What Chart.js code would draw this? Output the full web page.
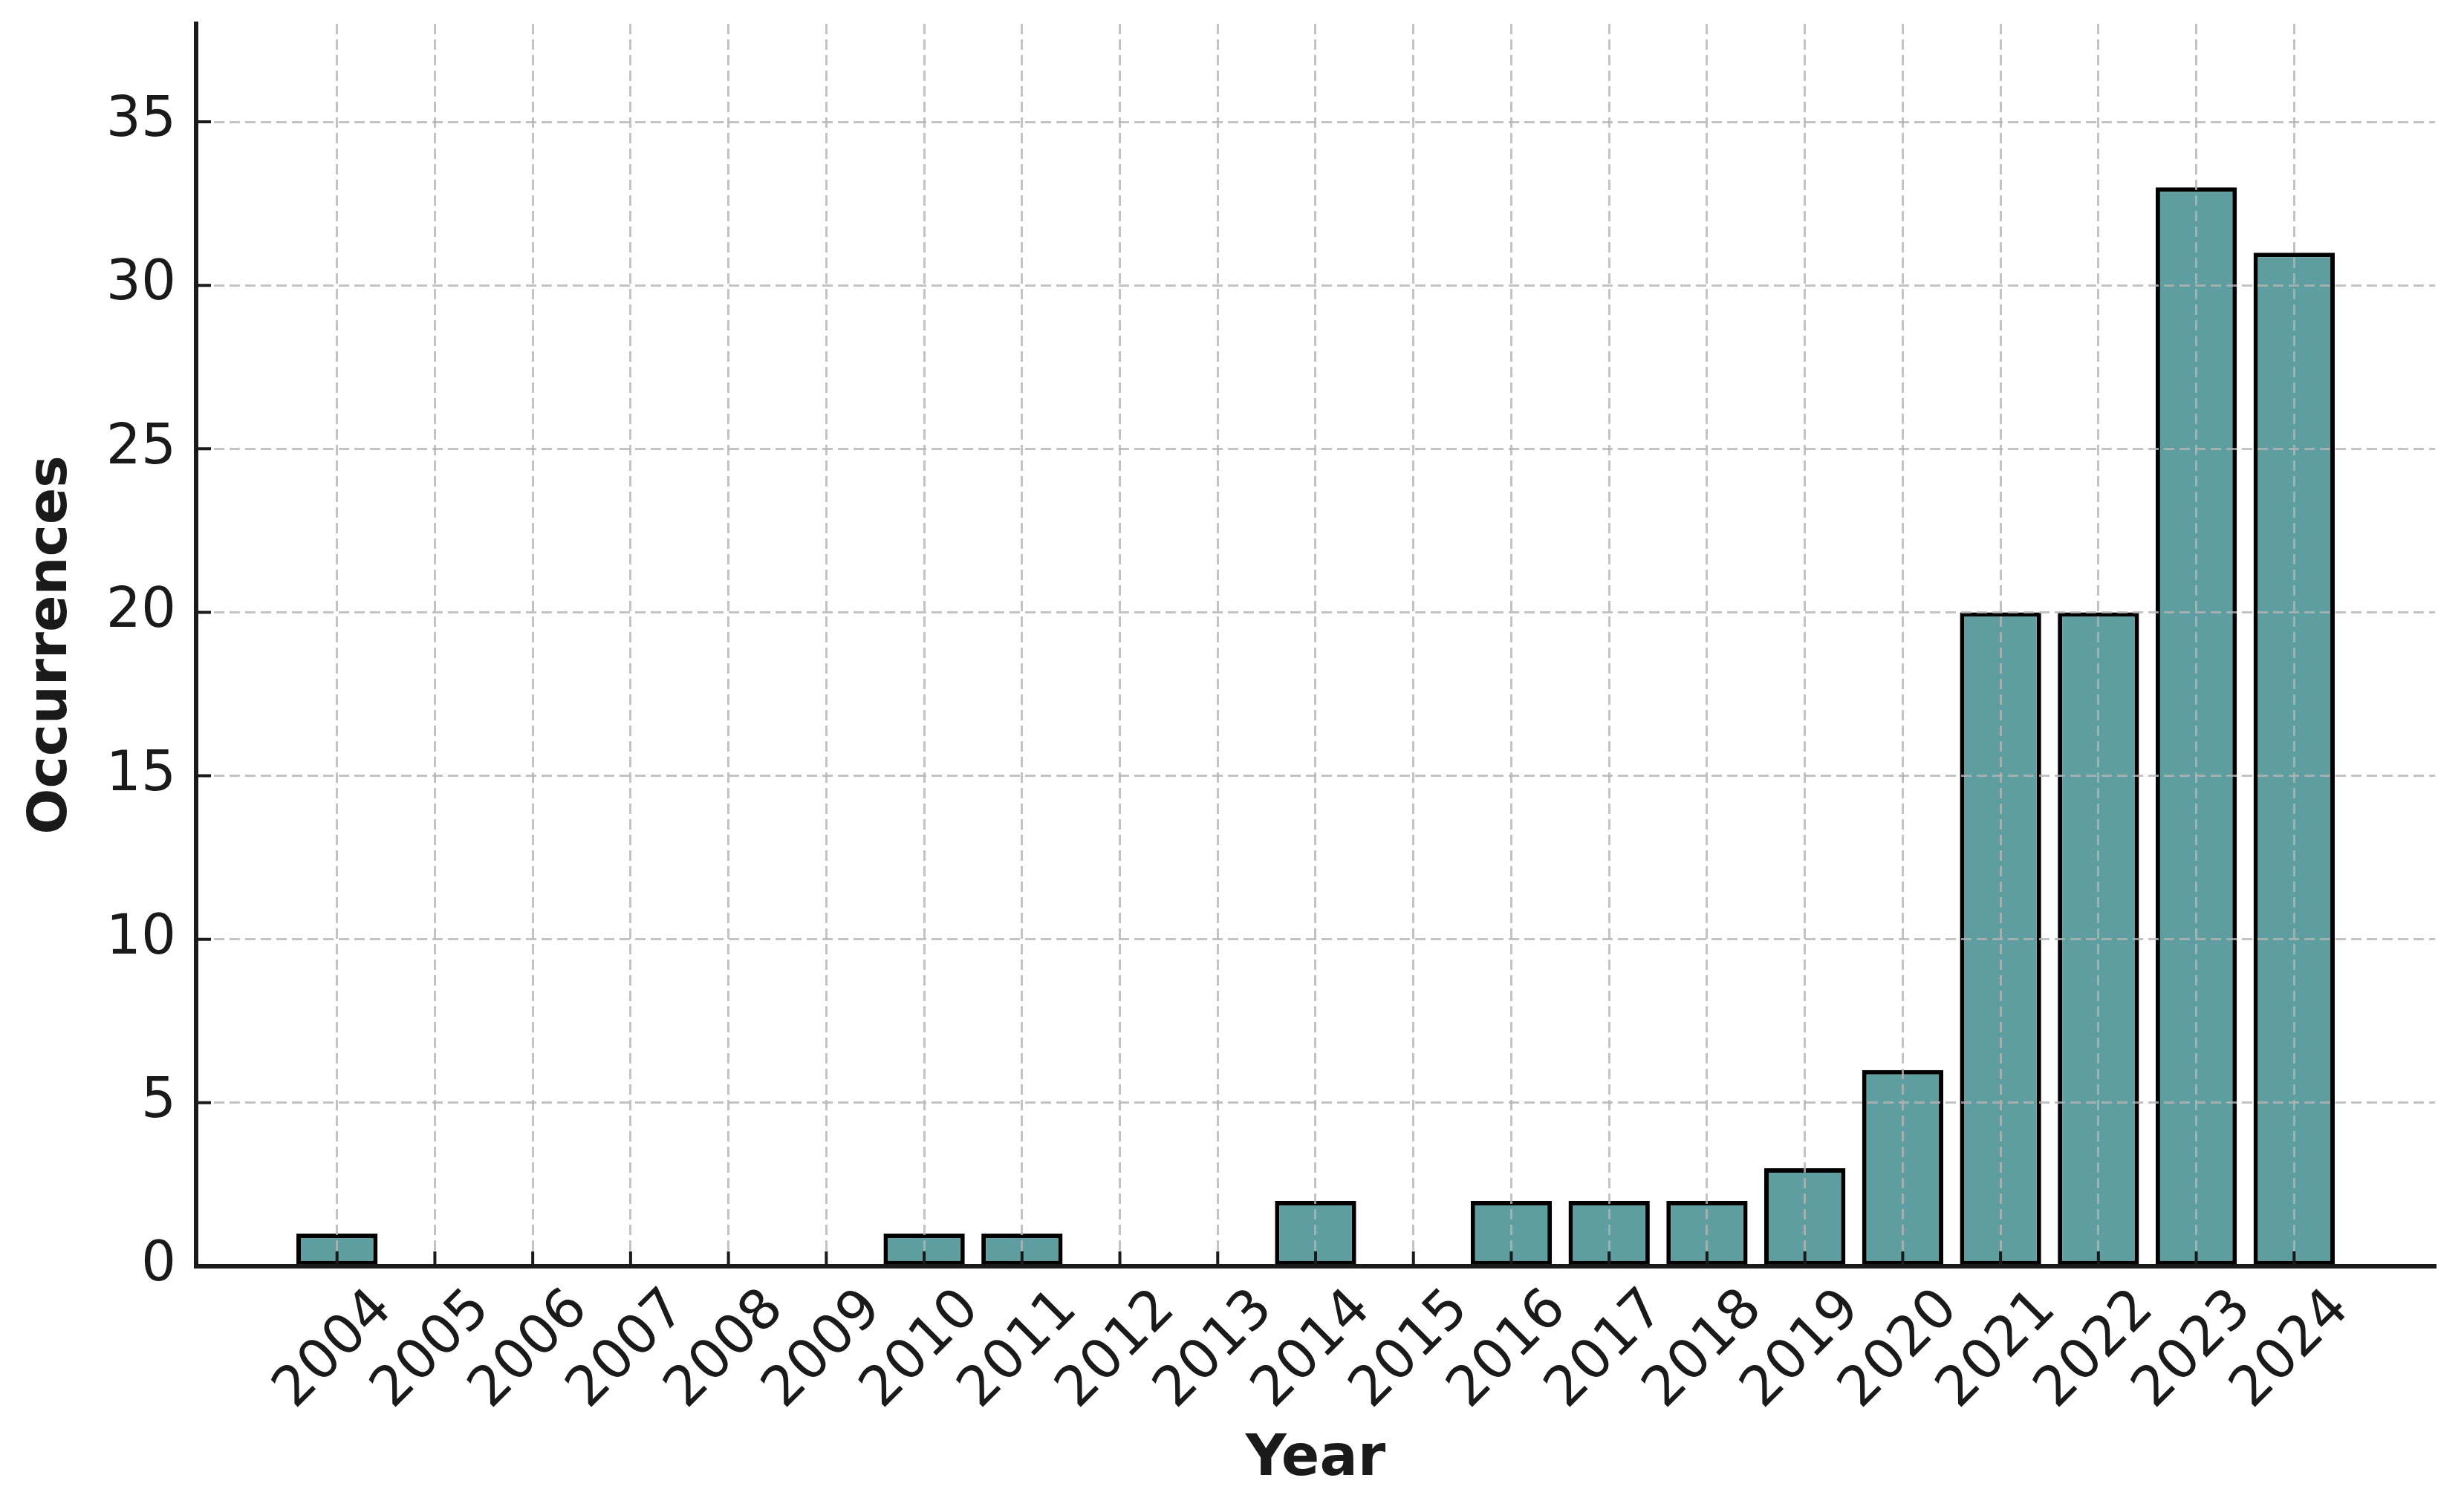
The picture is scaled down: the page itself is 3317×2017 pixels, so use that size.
<!DOCTYPE html>
<html>
<head>
<meta charset="utf-8">
<script src="https://cdn.jsdelivr.net/npm/chart.js@4.4.1/dist/chart.umd.min.js"></script>
<style>
  html, body { margin: 0; padding: 0; background: #fff; }
  canvas { display: block; }
</style>
</head>
<body>
<canvas id="chartOcurrencias" width="3317" height="2017"></canvas>
<script>
// valores
const years = ['2004', '2005', '2006', '2007', '2008', '2009', '2010', '2011', '2012', '2013',
               '2014', '2015', '2016', '2017', '2018', '2019', '2020', '2021', '2022', '2023', '2024'];
const occurrences = [1, 0, 0, 0, 0, 0, 1, 1, 0, 0, 2, 0, 2, 2, 2, 3, 6, 20, 20, 33, 31];
const yTicks = [0, 5, 10, 15, 20, 25, 30, 35];
const yMax = 38;

const FONT = 'DejaVu Sans';
const INK = '#1a1a1a';

// marcas de eje hacia dentro (estilo matplotlib)
const inwardTicks = {
  id: 'inwardTicks',
  afterDraw(chart) {
    const { ctx, chartArea: a, scales: { x, y } } = chart;
    ctx.save();
    ctx.strokeStyle = INK;
    ctx.lineWidth = 4;
    ctx.beginPath();
    x.ticks.forEach(t => {
      const px = x.getPixelForValue(t.value);
      ctx.moveTo(px, a.bottom);
      ctx.lineTo(px, a.bottom - 20);
    });
    y.ticks.forEach(t => {
      const py = y.getPixelForValue(t.value);
      ctx.moveTo(a.left, py);
      ctx.lineTo(a.left + 20, py);
    });
    ctx.stroke();
    ctx.restore();
  }
};

new Chart(document.getElementById('chartOcurrencias'), {
  type: 'bar',
  data: {
    datasets: [{
      label: 'Occurrences',
      data: occurrences.map((v, i) => ({ x: i, y: v })),
      backgroundColor: '#5F9EA0',
      borderColor: '#000000',
      borderWidth: 6,
      borderSkipped: false,
      barPercentage: 0.83,
      categoryPercentage: 1.0
    }]
  },
  plugins: [inwardTicks],
  options: {
    responsive: false,
    devicePixelRatio: 1,
    animation: false,
    layout: { padding: { top: 32, right: 39, left: 0, bottom: 0 } },
    plugins: { legend: { display: false }, tooltip: { enabled: false } },
    scales: {
      x: {
        type: 'linear',
        min: -1.44,
        max: years.length - 1 + 1.44,
        offset: false,
        afterBuildTicks: s => { s.ticks = years.map((_, i) => ({ value: i })); },
        afterFit: s => { s.height = 312; s.paddingLeft = 0; s.paddingRight = 0; },
        grid: { offset: false, color: 'rgba(180,180,180,0.8)', lineWidth: 3, drawTicks: false, z: 1 },
        border: { color: INK, width: 6, dash: [14, 7], z: 2 },
        ticks: {
          autoSkip: false, minRotation: 45, maxRotation: 45,
          padding: 15, labelOffset: 63,
          color: INK, font: { family: FONT, size: 74 },
          callback: v => years[v]
        },
        title: {
          display: true, text: 'Year', color: INK,
          font: { family: FONT, size: 76, weight: 'bold', lineHeight: 1.2 },
          padding: { top: 0, bottom: 5 }
        }
      },
      y: {
        min: 0,
        max: yMax,
        afterBuildTicks: s => { s.ticks = yTicks.map(v => ({ value: v })); },
        afterFit: s => { s.width = 264; s.paddingTop = 0; s.paddingBottom = 0; },
        grid: { color: 'rgba(180,180,180,0.8)', lineWidth: 3, drawTicks: false, z: 1 },
        border: { color: INK, width: 6, dash: [14, 7], z: 2 },
        ticks: { padding: 27, color: INK, font: { family: FONT, size: 74 } },
        title: {
          display: true, text: 'Occurrences', color: INK,
          font: { family: FONT, size: 73, weight: 'bold', lineHeight: 1.2 },
          padding: { top: 26, bottom: 0 }
        }
      }
    }
  }
});
</script>
</body>
</html>
